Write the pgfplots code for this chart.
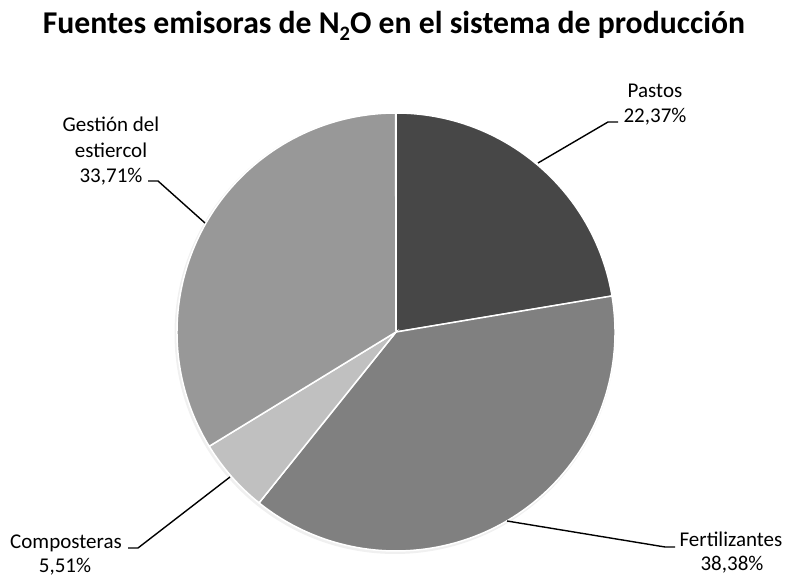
\documentclass[border=0pt]{standalone}
\usepackage{pgfplots}
\pgfplotsset{compat=1.18}
\usepackage{pgfplotstable}
\usepackage{fontspec}
\setmainfont{Carlito}
\definecolor{cPastos}{HTML}{474747}
\definecolor{cFert}{HTML}{808080}
\definecolor{cComp}{HTML}{C0C0C0}
\definecolor{cGest}{HTML}{989898}
\pgfplotstableread{
label value
Pastos 22.37
Fertilizantes 38.38
Composteras 5.51
Gestion 33.71
}\piedata
\pgfplotstablegetelem{0}{value}\of\piedata\let\vA\pgfplotsretval
\pgfplotstablegetelem{1}{value}\of\piedata\let\vB\pgfplotsretval
\pgfplotstablegetelem{2}{value}\of\piedata\let\vC\pgfplotsretval
\pgfplotstablegetelem{3}{value}\of\piedata\let\vD\pgfplotsretval
\pgfmathsetmacro\aA{90}
\pgfmathsetmacro\aB{90-3.6*\vA}
\pgfmathsetmacro\aC{90-3.6*(\vA+\vB)}
\pgfmathsetmacro\aD{90-3.6*(\vA+\vB+\vC)}
\pgfmathsetmacro\aE{90-3.6*(\vA+\vB+\vC+\vD)}
\begin{document}
\begin{tikzpicture}[x=1pt,y=1pt]
\useasboundingbox (0,0) rectangle (788,577);
\begin{axis}[
  at={(396pt,245pt)}, anchor=origin,
  x=219pt, y=219pt,
  xmin=-1, xmax=1, ymin=-1, ymax=1,
  hide axis, clip=false,
]
\fill[black,opacity=0.06] (axis cs:0,0) ++(-1pt,-1.5pt) circle[radius=220.5pt];
\fill[cPastos,draw=white,line width=1.5pt] (axis cs:0,0) -- ++(\aA:219pt) arc[start angle=\aA,end angle=\aB,radius=219pt] -- cycle;
\fill[cFert,draw=white,line width=1.5pt] (axis cs:0,0) -- ++(\aB:219pt) arc[start angle=\aB,end angle=\aC,radius=219pt] -- cycle;
\fill[cComp,draw=white,line width=1.5pt] (axis cs:0,0) -- ++(\aC:219pt) arc[start angle=\aC,end angle=\aD,radius=219pt] -- cycle;
\fill[cGest,draw=white,line width=1.5pt] (axis cs:0,0) -- ++(\aD:219pt) arc[start angle=\aD,end angle=\aE,radius=219pt] -- cycle;
\end{axis}
% title
\node[anchor=base,font=\fontsize{31.7}{37}\selectfont\bfseries] at (394,543)
  {Fuentes emisoras de N\raisebox{-0.22em}{\fontsize{20.5}{20.5}\selectfont 2}O en el sistema de producción};
% leader lines
\draw[line width=1.4pt] (538,414) -- (608,455) -- (618,455);
\draw[line width=1.4pt] (148,396) -- (158,396) -- (205,354);
\draw[line width=1.4pt] (128,29) -- (138,29) -- (230,100);
\draw[line width=1.4pt] (507,56) -- (665,30) -- (675,30);
% labels
\begin{scope}[every node/.style={anchor=base,inner sep=0pt,font=\fontsize{21}{25}\selectfont}]
\node at (655,479) {Pastos};
\node at (655,454) {22,37\%};
\node at (111,445) {Gestión del};
\node at (111,419) {estiercol};
\node at (111,394) {33,71\%};
\node at (66,28) {Composteras};
\node at (65,4) {5,51\%};
\node at (731,30) {Fertilizantes};
\node at (732,6) {38,38\%};
\end{scope}
\end{tikzpicture}
\end{document}
